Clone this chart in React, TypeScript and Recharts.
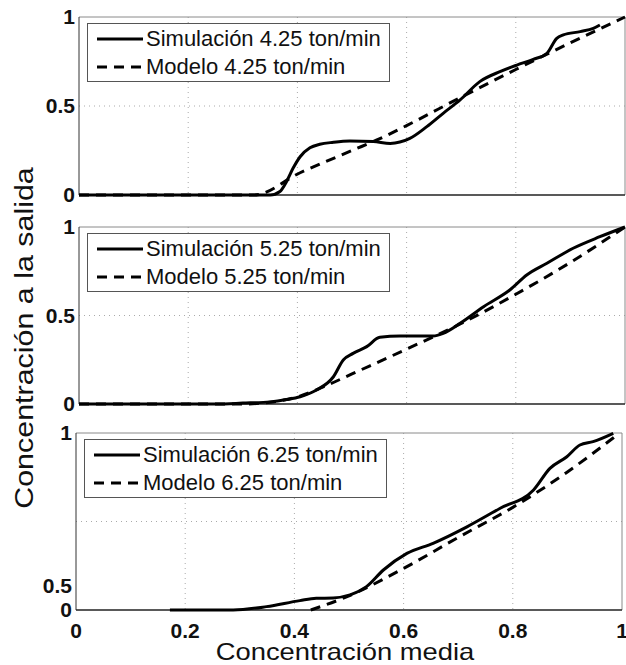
import React from 'react';
import { CartesianGrid, Legend, Line, LineChart, ReferenceLine, XAxis, YAxis } from 'recharts';

// axis ticks
const xTicks = [0, 0.2, 0.4, 0.6, 0.8, 1];
const xTickLabels = ['0', '0.2', '0.4', '0.6', '0.8', '1'];
const yTicks = [0, 0.5, 1];
const yTickLabels = ['0', '0.5', '1'];
// the bottom panel has its "0.5" label drawn low, as in the source figure
const yTicksLow = [0, 0.14, 1];
const gridX = [0.2, 0.4, 0.6, 0.8];
const gridY = [0.5];

const rates = ['4.25', '5.25', '6.25'];

// 4.25 ton/min
const sim1X = [0, 0.2, 0.35, 0.368, 0.38, 0.392, 0.405, 0.423, 0.441, 0.466, 0.496, 0.539, 0.57, 0.606, 0.637, 0.667, 0.698, 0.734, 0.771, 0.802, 0.832, 0.857, 0.875, 0.887, 0.918, 0.942, 0.954];
const sim1Y = [0, 0, 0, 0.02, 0.075, 0.15, 0.215, 0.265, 0.285, 0.296, 0.303, 0.3, 0.29, 0.318, 0.384, 0.459, 0.534, 0.637, 0.693, 0.73, 0.762, 0.796, 0.88, 0.899, 0.918, 0.936, 0.955];
const mod1X = [0, 0.32, 0.405, 0.5, 0.55, 0.6, 0.7, 0.8, 0.9, 1];
const mod1Y = [0, 0, 0.125, 0.25, 0.315, 0.39, 0.55, 0.705, 0.855, 1];

// 5.25 ton/min
const sim2X = [0, 0.25, 0.3, 0.35, 0.38, 0.405, 0.435, 0.466, 0.484, 0.502, 0.527, 0.551, 0.588, 0.649, 0.667, 0.698, 0.741, 0.789, 0.82, 0.857, 0.905, 0.954, 1];
const sim2Y = [0, 0, 0.005, 0.012, 0.025, 0.041, 0.079, 0.154, 0.249, 0.286, 0.324, 0.377, 0.384, 0.384, 0.399, 0.456, 0.55, 0.644, 0.729, 0.795, 0.88, 0.945, 1];
const mod2X = [0, 0.3, 0.35, 0.4, 0.45, 0.5, 0.6, 0.7, 0.8, 0.9, 1];
const mod2Y = [0, 0, 0.01, 0.04, 0.1, 0.17, 0.31, 0.455, 0.62, 0.8, 1];

// 6.25 ton/min
const sim3X = [0.172, 0.288, 0.349, 0.41, 0.44, 0.471, 0.502, 0.532, 0.563, 0.606, 0.654, 0.716, 0.777, 0.838, 0.868, 0.899, 0.923, 0.947, 0.984];
const sim3Y = [0, 0, 0.019, 0.053, 0.066, 0.068, 0.085, 0.132, 0.226, 0.32, 0.377, 0.47, 0.575, 0.678, 0.8, 0.866, 0.932, 0.951, 0.998];
const mod3X = [0.43, 0.5, 0.6, 0.7, 0.8, 0.9, 0.985];
const mod3Y = [0, 0.08, 0.235, 0.41, 0.58, 0.78, 0.975];

const toPoints = (xs: number[], ys: number[]) => xs.map((x, i) => ({ x, y: ys[i] }));

const FONT = '"Liberation Sans", Arial, Helvetica, sans-serif';
const DASH = '10 7';

const isDashed = (entry: any) => Boolean(entry?.payload?.strokeDasharray);

const renderLegend = (props: any) => {
  // solid (simulation) first, dashed (model) second
  const items = [...(props.payload || [])].sort((a, b) => Number(isDashed(a)) - Number(isDashed(b)));
  return (
    <div
      style={{
        width: 303,
        height: 59,
        boxSizing: 'border-box',
        border: '1px solid #555',
        background: '#fff',
        padding: '1px 0 0 8px',
        fontFamily: FONT,
      }}
    >
      {items.map((entry: any, i: number) => (
        <div key={i} style={{ display: 'flex', alignItems: 'center', height: 28 }}>
          <svg width={50} height={10} style={{ display: 'block' }}>
            <line
              x1={1}
              x2={47}
              y1={5}
              y2={5}
              stroke="#000"
              strokeWidth={3}
              strokeDasharray={isDashed(entry) ? DASH : undefined}
            />
          </svg>
          <span style={{ fontSize: 22, color: '#111', lineHeight: '28px', whiteSpace: 'nowrap' }}>
            {entry.value}
          </span>
        </div>
      ))}
    </div>
  );
};

interface PanelProps {
  top: number;
  left: number;
  right: number;
  plotHeight: number;
  rate: string;
  sim: { x: number; y: number }[];
  model: { x: number; y: number }[];
  yTickValues: number[];
  showX?: boolean;
}

const Panel = ({ top, left, right, plotHeight, rate, sim, model, yTickValues, showX }: PanelProps) => {
  const marginTop = 12;
  const xAxisHeight = showX ? 32 : 0;
  const marginBottom = showX ? 0 : 12;
  const height = marginTop + plotHeight + xAxisHeight + marginBottom;
  const width = 626;
  return (
    <div style={{ position: 'absolute', left: 0, top: top - marginTop }}>
      <LineChart
        width={width}
        height={height}
        margin={{ top: marginTop, right: width - right, bottom: marginBottom, left: 0 }}
      >
        <CartesianGrid
          stroke="#aaa"
          strokeDasharray="1 4"
          horizontalValues={gridY}
          verticalValues={gridX}
        />
        <XAxis
          dataKey="x"
          type="number"
          domain={[0, 1]}
          ticks={xTicks}
          hide={!showX}
          height={xAxisHeight}
          axisLine={false}
          tickLine={false}
          tickSize={0}
          tickMargin={13}
          interval={0}
          tickFormatter={(v: number, i: number) => xTickLabels[i]}
          tick={{ fontSize: 21, fontWeight: 700, fill: '#111' }}
        />
        <YAxis
          type="number"
          domain={[0, 1]}
          ticks={yTickValues}
          width={left}
          axisLine={false}
          tickLine={false}
          tickSize={0}
          tickMargin={4}
          interval={0}
          tickFormatter={(v: number, i: number) => yTickLabels[i]}
          tick={{ fontSize: 21, fontWeight: 700, fill: '#111' }}
        />
        <ReferenceLine y={1} stroke="#8a8a8a" />
        <ReferenceLine x={1} stroke="#8a8a8a" />
        <ReferenceLine x={0} stroke="#333" />
        <ReferenceLine y={0} stroke="#222" strokeWidth={1.5} />
        <Line
          data={sim}
          dataKey="y"
          name={`Simulación ${rate} ton/min`}
          type="monotone"
          stroke="#000"
          strokeWidth={3}
          dot={false}
          isAnimationActive={false}
        />
        <Line
          data={model}
          dataKey="y"
          name={`Modelo ${rate} ton/min`}
          type="monotone"
          stroke="#000"
          strokeWidth={3}
          strokeDasharray={DASH}
          dot={false}
          isAnimationActive={false}
        />
        <Legend
          layout="horizontal"
          verticalAlign="middle"
          align="center"
          content={renderLegend}
          wrapperStyle={{ left: left + 8, top: marginTop + 6, width: 303, height: 59 }}
        />
      </LineChart>
    </div>
  );
};

const App = () => {
  return (
    <div
      style={{
        position: 'absolute',
        left: 0,
        top: 0,
        width: 626,
        height: 665,
        background: '#fff',
        fontFamily: FONT,
        overflow: 'hidden',
      }}
    >
      <Panel top={17} left={79} right={625} plotHeight={178} rate={rates[0]} sim={toPoints(sim1X, sim1Y)} model={toPoints(mod1X, mod1Y)} yTickValues={yTicks} />
      <Panel top={227} left={79} right={625} plotHeight={177} rate={rates[1]} sim={toPoints(sim2X, sim2Y)} model={toPoints(mod2X, mod2Y)} yTickValues={yTicks} />
      <Panel top={433} left={76} right={622} plotHeight={177} rate={rates[2]} sim={toPoints(sim3X, sim3Y)} model={toPoints(mod3X, mod3Y)} yTickValues={yTicksLow} showX />
      <div
        style={{
          position: 'absolute',
          left: 24,
          top: 338,
          transform: 'translate(-50%, -50%) rotate(-90deg) scaleX(1.17)',
          fontSize: 26,
          color: '#111',
          whiteSpace: 'nowrap',
          lineHeight: 1,
        }}
      >
        Concentración a la salida
      </div>
      <div
        style={{
          position: 'absolute',
          left: 345,
          top: 652,
          transform: 'translate(-50%, -50%) scaleX(1.14)',
          fontSize: 24,
          color: '#111',
          whiteSpace: 'nowrap',
          lineHeight: 1,
        }}
      >
        Concentración media
      </div>
    </div>
  );
};

export default App;
